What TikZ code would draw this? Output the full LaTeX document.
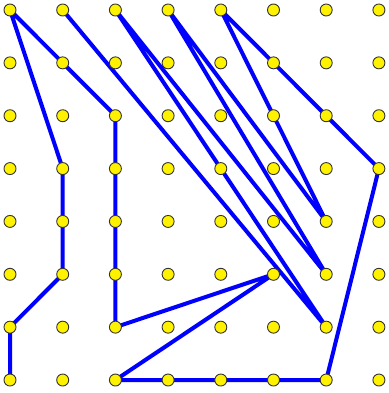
\documentclass[tikz,border=0pt]{standalone}
\usetikzlibrary{backgrounds}
\begin{document}
\begin{tikzpicture}[x=1pt,y=-1pt,
  dot/.style={circle,draw=black!80,fill=yellow,line width=0.9pt,inner sep=0pt,minimum size=12pt},
  link/.style={draw=blue,line width=4pt,line join=round,line cap=round}]
\useasboundingbox (0,0) rectangle (388,393);
\foreach \i in {0,...,7}
  \foreach \j in {0,...,7}
    \node[dot] (d\i\j) at ({10+52.7*\i},{10+52.86*\j}) {};
\begin{scope}[on background layer]
\draw[link] (d07.center) -- (d06.center) -- (d15.center) -- (d14.center) -- (d13.center)
  -- (d00.center) -- (d11.center) -- (d22.center) -- (d23.center) -- (d24.center)
  -- (d25.center) -- (d26.center) -- (d55.center) -- (d27.center) -- (d37.center)
  -- (d47.center) -- (d57.center) -- (d67.center) -- (d73.center) -- (d62.center)
  -- (d51.center) -- (d40.center) -- (d52.center) -- (d64.center) -- (d30.center)
  -- (d65.center) -- (d20.center) -- (d66.center) -- (d10.center);
\end{scope}
\end{tikzpicture}
\end{document}
